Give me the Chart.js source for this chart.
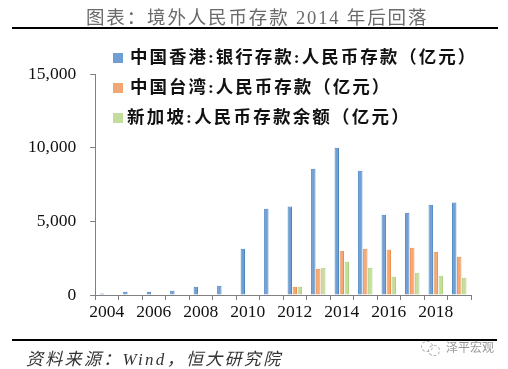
<!DOCTYPE html>
<html>
<head>
<meta charset="utf-8">
<script src="https://cdn.jsdelivr.net/npm/chart.js@4"></script>
<style>
    html, body { margin: 0; padding: 0; background: #fff; }
    #wrap { position: relative; width: 508px; height: 369px; overflow: hidden; }
    #chart { position: absolute; left: 0; top: 0; }
    .rule { position: absolute; background: #000; }
    .txt { position: absolute; white-space: nowrap; }
    #title { left: 86px; top: 3px; font: 18.5px "Liberation Serif", "Noto Sans CJK SC"; color: #6a6a6a; letter-spacing: 1.85px; }
    #source { left: 26px; top: 345px; font: italic 17px "Liberation Serif", "Noto Sans CJK SC"; color: #333; letter-spacing: 2.3px; }
    #mark { left: 446px; top: 338px; font: 12px "Noto Sans CJK SC"; color: #999; }
    .ring { position: absolute; border: 1px dashed #aaa; border-radius: 50%; }
    #legend { position: absolute; left: 113px; top: 44px; font: bold 17.5px "Liberation Serif", "Noto Sans CJK SC"; color: #111; }
    #legend div { height: 30px; line-height: 26px; white-space: nowrap; letter-spacing: 2px; }
    #legend i { display: inline-block; width: 10px; height: 10px; margin-right: 7px; }
    #legend div:last-child { letter-spacing: 2.2px; }
    #legend div:last-child i { margin-right: 4px; }
</style>
</head>
<body>
<div id="wrap">
    <canvas id="chart" width="508" height="369"></canvas>
    <div class="txt" id="title">图表：境外人民币存款 2014 年后回落</div>
    <div class="rule" style="left:12px;top:27px;width:486px;height:2px"></div>
    <div id="legend"></div>
    <div class="rule" style="left:12px;top:339px;width:485px;height:2px"></div>
    <div class="txt" id="source">资料来源：Wind，恒大研究院</div>
    <div class="ring" style="left:421px;top:341px;width:10px;height:9px"></div>
    <div class="ring" style="left:428px;top:345px;width:10px;height:9px"></div>
    <div class="txt" id="mark">泽平宏观</div>
</div>
<script>
    var years = ['2004','2005','2006','2007','2008','2009','2010','2011','2012','2013','2014','2015','2016','2017','2018','2019'];
    var hongKong = [100,226,226,294,566,630,3145,5860,6000,8575,10000,8440,5450,5590,6130,6270];
    var taiwan = [null,null,null,null,null,null,null,null,566,1790,3010,3145,3080,3210,2940,2600];
    var singapore = [null,null,null,null,null,null,null,null,566,1855,2260,1855,1245,1515,1310,1176];
    var seriesNames = ['中国香港:银行存款:人民币存款（亿元）','中国台湾:人民币存款（亿元）','新加坡:人民币存款余额（亿元）'];
    var yTicks = [0,5000,10000,15000];

    var fills = ['#6f9fd2','#f3a873','#c4dc9c'];
    var edges = ['#4a86c4','#ed8d4c','#aed07e'];
    var values = [hongKong, taiwan, singapore];

    var datasets = values.map(function (v, i) {
        return {
            label: seriesNames[i],
            data: v,
            backgroundColor: fills[i],
            borderColor: edges[i],
            borderWidth: 1,
            categoryPercentage: 0.64,
            barPercentage: 0.88
        };
    });

    // Legend sits over the plot area, so it is built by hand from the datasets
    var legend = document.getElementById('legend');
    datasets.forEach(function (d, i) {
        var row = document.createElement('div');
        var box = document.createElement('i');
        box.style.background = fills[i];
        row.appendChild(box);
        row.appendChild(document.createTextNode(d.label));
        legend.appendChild(row);
    });

    new Chart(document.getElementById('chart'), {
        type: 'bar',
        data: { labels: years, datasets: datasets },
        options: {
            responsive: false,
            animation: false,
            layout: { padding: { left: 14, right: 37, top: 74, bottom: 44 } },
            plugins: { legend: { display: false }, title: { display: false }, tooltip: { enabled: false } },
            scales: {
                x: {
                    offset: true,
                    border: { color: '#808080', width: 1 },
                    grid: { display: true, offset: true, drawOnChartArea: false, drawTicks: true, tickLength: 5, color: '#808080' },
                    ticks: {
                        color: '#111',
                        font: { family: 'Liberation Serif', size: 17.5 },
                        maxRotation: 0,
                        autoSkip: false,
                        padding: 2,
                        callback: function (v, i) { return i % 2 === 0 ? years[i] : ''; }
                    }
                },
                y: {
                    min: 0,
                    max: 15000,
                    afterBuildTicks: function (axis) {
                        axis.ticks = yTicks.map(function (t) { return { value: t }; });
                    },
                    border: { color: '#808080', width: 1 },
                    grid: { drawOnChartArea: false, drawTicks: true, tickLength: 5, color: '#808080' },
                    ticks: {
                        color: '#111',
                        font: { family: 'Liberation Serif', size: 17.5 },
                        padding: 14,
                        callback: function (v) { return v.toLocaleString('en-US'); }
                    }
                }
            }
        }
    });
</script>
</body>
</html>
